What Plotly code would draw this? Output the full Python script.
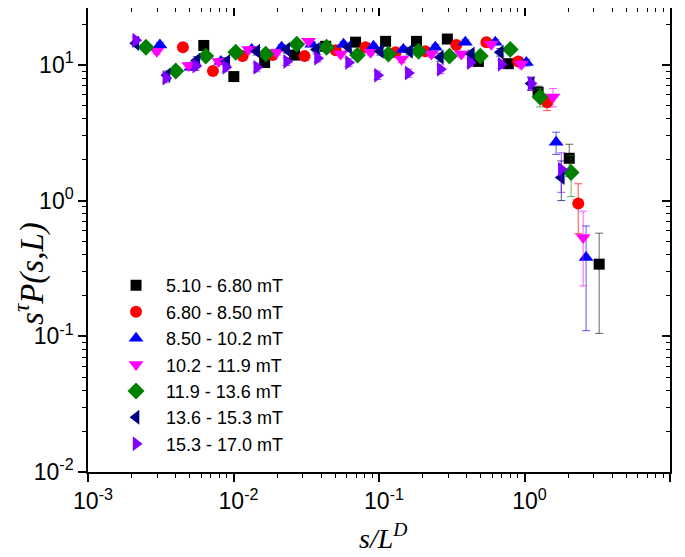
"""Scaling collapse s^tau P(s,L) vs s/L^D for several field windows."""

import plotly.graph_objects as go

LABELS = [
    "5.10 - 6.80 mT",
    "6.80 - 8.50 mT",
    "8.50 - 10.2 mT",
    "10.2 - 11.9 mT",
    "11.9 - 13.6 mT",
    "13.6 - 15.3 mT",
    "15.3 - 17.0 mT",
]

X_510 = [0.00625, 0.01005, 0.01637, 0.0263, 0.0430, 0.0690, 0.111, 0.181, 0.295, 0.482, 0.774, 1.24, 2.03, 3.26]
Y_510 = [13.9, 8.2, 10.4, 11.8, 13.7, 14.7, 14.9, 14.9, 15.5, 10.6, 10.2, 6.3, 2.05, 0.34]
E_510 = [0.6, 0.5, 0.5, 0.6, 0.6, 0.6, 0.6, 0.6, 0.7, 0.6, 0.6, 0.67, 0.55, 0.235]

X_680 = [0.00449, 0.00722, 0.01156, 0.01857, 0.0308, 0.0504, 0.0807, 0.130, 0.208, 0.340, 0.547, 0.906, 1.43, 2.34]
Y_680 = [13.5, 9.0, 11.6, 11.8, 11.6, 12.8, 13.5, 12.4, 12.6, 14.0, 14.7, 10.6, 5.3, 0.95]
E_680 = [0.5, 0.4, 0.5, 0.5, 0.5, 0.5, 0.5, 0.5, 0.5, 0.6, 0.6, 0.6, 0.7, 0.38]

X_850 = [0.00312, 0.00510, 0.00819, 0.01333, 0.0214, 0.0345, 0.0570, 0.0916, 0.147, 0.244, 0.392, 0.630, 1.03, 1.65, 2.65]
Y_850 = [14.0, 9.6, 10.6, 13.0, 13.5, 14.2, 14.2, 13.7, 13.0, 13.5, 14.7, 14.7, 10.4, 2.69, 0.38]
E_850 = [0.6, 0.5, 0.5, 0.6, 0.6, 0.6, 0.6, 0.6, 0.6, 0.6, 0.6, 0.6, 0.6, 0.5, 0.27]

X_102 = [0.00297, 0.00493, 0.00792, 0.01273, 0.0198, 0.0328, 0.0545, 0.0875, 0.143, 0.229, 0.368, 0.591, 0.950, 1.57, 2.53]
Y_102 = [12.6, 9.9, 10.6, 13.0, 12.4, 14.9, 12.0, 12.4, 11.0, 12.0, 12.0, 14.2, 10.1, 5.8, 0.535]
E_102 = [0.6, 0.5, 0.5, 0.6, 0.6, 0.6, 0.6, 0.6, 0.6, 0.6, 0.6, 0.6, 0.6, 0.9, 0.30]

X_119 = [0.00250, 0.00401, 0.00645, 0.01036, 0.01665, 0.0272, 0.0436, 0.0712, 0.116, 0.187, 0.305, 0.497, 0.798, 1.28, 2.09]
Y_119 = [13.5, 9.0, 11.6, 12.4, 12.0, 14.2, 13.5, 11.8, 12.0, 12.6, 11.6, 11.6, 13.0, 5.8, 1.61]
E_119 = [0.5, 0.4, 0.5, 0.5, 0.5, 0.5, 0.5, 0.5, 0.5, 0.5, 0.5, 0.5, 0.6, 0.9, 0.54]

X_136 = [0.00213, 0.00349, 0.00560, 0.00899, 0.01445, 0.0232, 0.0372, 0.0618, 0.102, 0.162, 0.264, 0.431, 0.682, 1.11, 1.79]
Y_136 = [14.4, 8.4, 10.8, 10.6, 12.6, 13.0, 13.0, 13.5, 12.6, 12.6, 11.4, 12.0, 12.4, 7.3, 1.48]
E_136 = [0.8, 0.6, 0.7, 0.7, 0.8, 0.8, 0.8, 0.8, 0.8, 0.8, 0.8, 0.8, 0.8, 0.8, 0.48]

X_153 = [0.00213, 0.00343, 0.00551, 0.00885, 0.01445, 0.0232, 0.0378, 0.0618, 0.0977, 0.159, 0.264, 0.424, 0.692, 1.11, 1.79]
Y_153 = [15.2, 8.0, 9.8, 9.6, 9.6, 10.6, 11.2, 10.4, 8.4, 8.7, 9.3, 10.4, 10.1, 7.3, 1.70]
E_153 = [0.8, 0.6, 0.7, 0.7, 0.7, 0.7, 0.7, 0.7, 0.6, 0.6, 0.7, 0.7, 0.7, 0.8, 0.55]

X_TICKS = [0.001, 0.01, 0.1, 1, 10]
X_TICKTEXT = ["10<sup>-3</sup>", "10<sup>-2</sup>", "10<sup>-1</sup>", "10<sup>0</sup>", "10<sup>1</sup>"]
Y_TICKS = [0.01, 0.1, 1, 10]
Y_TICKTEXT = ["10<sup>-2</sup>", "10<sup>-1</sup>", "10<sup>0</sup>", "10<sup>1</sup>"]

SERIES = [
    (X_510, Y_510, E_510),
    (X_680, Y_680, E_680),
    (X_850, Y_850, E_850),
    (X_102, Y_102, E_102),
    (X_119, Y_119, E_119),
    (X_136, Y_136, E_136),
    (X_153, Y_153, E_153),
]

COLORS = ["#000000", "#ff0000", "#0000ff", "#ff00ff", "#008000", "#000080", "#8000ff"]
ERR_COLORS = [
    "rgba(0,0,0,0.6)",
    "rgba(255,0,0,0.7)",
    "rgba(0,0,255,0.65)",
    "rgba(255,0,255,0.65)",
    "rgba(0,128,0,0.6)",
    "rgba(0,0,128,0.7)",
    "rgba(128,0,255,0.65)",
]
SYMBOLS = ["square", "circle", "triangle-up", "triangle-down", "diamond", "triangle-left", "triangle-right"]
SIZES = [11, 12, 13, 13, 13, 13, 13]

SANS = "Liberation Sans, Arial, sans-serif"
SERIF = "Liberation Serif, Times New Roman, serif"

# the page body keeps its default 8px margin, so the figure is 8px smaller
FIG_W, FIG_H = 677, 549

fig = go.Figure()

for (xs, ys, es), label, color, ecolor, symbol, size in zip(
    SERIES, LABELS, COLORS, ERR_COLORS, SYMBOLS, SIZES
):
    fig.add_trace(
        go.Scatter(
            x=xs,
            y=ys,
            mode="markers",
            name=label,
            marker={"symbol": symbol, "size": size, "color": color, "line": {"width": 0}},
            error_y={
                "type": "data",
                "array": es,
                "visible": True,
                "color": ecolor,
                "thickness": 1,
                "width": 4,
            },
        )
    )

# empty trace so the mirrored top/right axes get drawn
fig.add_trace(
    go.Scatter(x=[], y=[], xaxis="x2", yaxis="y2", showlegend=False, hoverinfo="skip")
)

axis_common = {
    "type": "log",
    "showgrid": False,
    "zeroline": False,
    "showline": True,
    "linecolor": "black",
    "linewidth": 1.5,
    "tickcolor": "black",
    "tickwidth": 1.5,
    "ticklen": 8,
    "automargin": False,
}
minor_out = {"ticks": "outside", "ticklen": 4, "tickcolor": "black", "tickwidth": 1.2, "dtick": "D1"}
minor_in = {**minor_out, "ticks": "inside"}
X_RANGE = [-3, 1]
Y_RANGE = [-2, 1.419]
TICK_FONT = {"family": SANS, "size": 23, "color": "black"}

fig.update_layout(
    width=FIG_W,
    height=FIG_H,
    margin={"l": 80, "r": 15, "t": 0, "b": 85},
    paper_bgcolor="white",
    plot_bgcolor="white",
    showlegend=True,
    legend={
        "x": 0.031,
        "y": 0.4415,
        "xanchor": "left",
        "yanchor": "top",
        "bgcolor": "rgba(0,0,0,0)",
        "font": {"family": SANS, "size": 18, "color": "black"},
        "itemwidth": 50,
    },
    xaxis={
        **axis_common,
        "range": X_RANGE,
        "ticks": "outside",
        "tickmode": "array",
        "tickvals": X_TICKS,
        "ticktext": X_TICKTEXT,
        "ticklabelshift": 5,
        "tickfont": TICK_FONT,
        "minor": minor_out,
    },
    yaxis={
        **axis_common,
        "range": Y_RANGE,
        "ticks": "outside",
        "tickmode": "array",
        "tickvals": Y_TICKS,
        "ticktext": Y_TICKTEXT,
        "tickfont": TICK_FONT,
        "minor": minor_out,
    },
    xaxis2={
        **axis_common,
        "range": X_RANGE,
        "overlaying": "x",
        "side": "top",
        "ticks": "inside",
        "tickmode": "array",
        "tickvals": X_TICKS,
        "showticklabels": False,
        "minor": minor_in,
    },
    yaxis2={
        **axis_common,
        "range": Y_RANGE,
        "overlaying": "y",
        "side": "right",
        "ticks": "inside",
        "tickmode": "array",
        "tickvals": Y_TICKS,
        "showticklabels": False,
        "minor": minor_in,
    },
    annotations=[
        {
            "text": "<i>s/L<sup>D</sup></i>",
            "xref": "paper",
            "yref": "paper",
            "x": 0.507,
            "y": -0.14,
            "xanchor": "center",
            "yanchor": "middle",
            "showarrow": False,
            "font": {"family": SERIF, "size": 28, "color": "black"},
        },
        {
            "text": "<i>s<sup>τ</sup>P(s,L)</i>",
            "xref": "paper",
            "yref": "paper",
            "x": -0.0997,
            "y": 0.429,
            "xanchor": "center",
            "yanchor": "middle",
            "textangle": -90,
            "showarrow": False,
            "font": {"family": SERIF, "size": 33, "color": "black"},
        },
    ],
)

fig.write_html("out.html")
